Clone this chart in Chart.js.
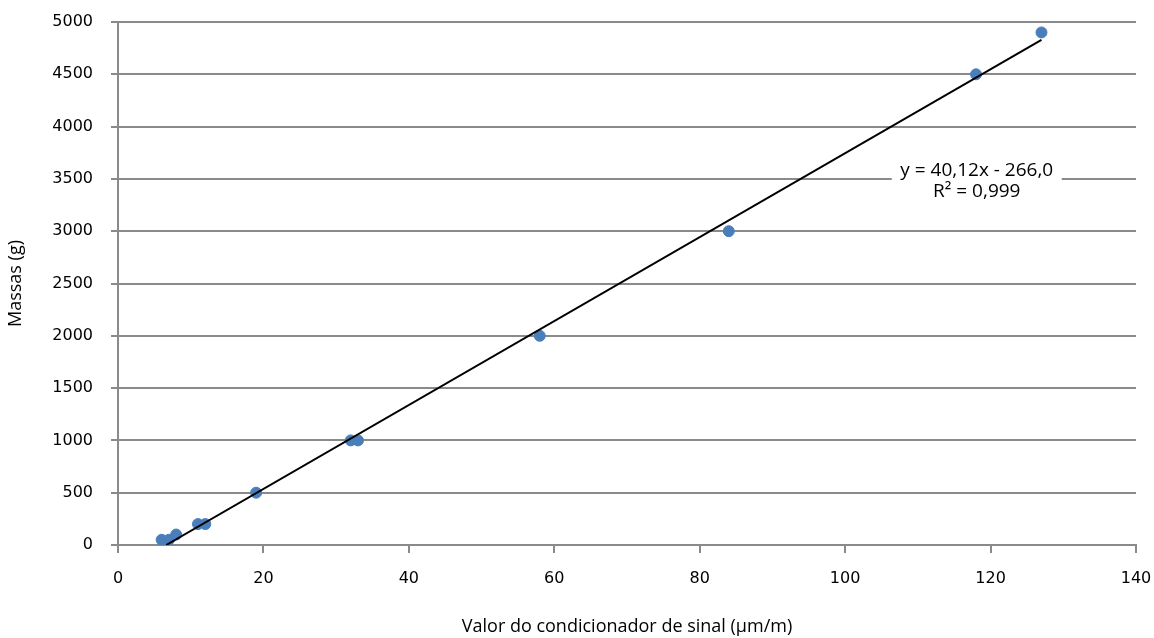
<!DOCTYPE html>
<html>
<head>
<meta charset="utf-8">
<title>Massas x condicionador de sinal</title>
<script src="https://cdn.jsdelivr.net/npm/chart.js@4/dist/chart.umd.min.js"></script>
<style>
  html, body { margin: 0; padding: 0; background: #fff; }
  #wrap { width: 1154px; height: 638px; }
</style>
</head>
<body>
<div id="wrap"><canvas id="chart" width="1154" height="638"></canvas></div>
<script>
// signal conditioner readings (µm/m) and the masses (g) they correspond to
const sinal = [6, 7, 8, 11, 12, 19, 32, 33, 58, 84, 118, 127];
const massas = [50, 50, 100, 200, 200, 500, 1000, 1000, 2000, 3000, 4500, 4900];

// linear trendline as printed on the chart
const slope = 40.12;
const intercept = -266.0;
const trendX = [6.63, 127];
const trendLabel = ['y = 40,12x - 266,0', 'R\u00B2 = 0,999'];

const gridColor = '#8a8a8a';

// draws the equation box over the gridline, like the spreadsheet label
const equationLabel = {
    id: 'equationLabel',
    afterDatasetsDraw(chart) {
        const ctx = chart.ctx;
        const x = chart.scales.x.getPixelForValue(118.1);
        const y = chart.scales.y.getPixelForValue(3500);
        ctx.save();
        ctx.fillStyle = '#fff';
        ctx.fillRect(x - 85, y - 20, 170, 40);
        ctx.fillStyle = '#000';
        ctx.font = '19px "Open Sans", sans-serif';
        ctx.textAlign = 'center';
        ctx.textBaseline = 'middle';
        ctx.fillText(trendLabel[0], x, y - 8);
        ctx.fillText(trendLabel[1], x, y + 13);
        ctx.restore();
    }
};

const ctx = document.getElementById('chart').getContext('2d');
new Chart(ctx, {
    type: 'scatter',
    data: {
        datasets: [
            {
                label: 'Massas',
                data: sinal.map((s, i) => ({ x: s, y: massas[i] })),
                backgroundColor: '#4a7ebb',
                borderColor: '#4a7ebb',
                pointRadius: 5.5,
                pointHoverRadius: 5.5,
                order: 2,
            },
            {
                label: 'Linear',
                type: 'line',
                data: trendX.map((x) => ({ x: x, y: slope * x + intercept })),
                borderColor: '#000',
                borderWidth: 2,
                pointRadius: 0,
                fill: false,
                order: 1,
            },
        ],
    },
    options: {
        responsive: false,
        animation: false,
        layout: { padding: { top: 22, right: 18, left: 0, bottom: 0 } },
        plugins: {
            legend: { display: false },
            tooltip: { enabled: false },
        },
        scales: {
            x: {
                type: 'linear',
                min: 0,
                max: 140,
                ticks: {
                    stepSize: 20,
                    color: '#000',
                    padding: 16,
                    font: { family: 'DejaVu Sans', size: 16 },
                    callback: (v) => String(v),
                },
                grid: {
                    display: true,
                    drawOnChartArea: false,
                    color: gridColor,
                    lineWidth: 2,
                    tickLength: 8,
                },
                border: { color: gridColor, width: 2 },
                title: {
                    display: true,
                    text: 'Valor do condicionador de sinal (\u00B5m/m)',
                    color: '#000',
                    font: { family: 'Open Sans', size: 18 },
                    padding: { top: 0, bottom: 0 },
                },
                afterFit(scale) {
                    scale.height = 93;
                    scale.paddingLeft = 0;
                    scale.paddingRight = 0;
                },
            },
            y: {
                min: 0,
                max: 5000,
                ticks: {
                    stepSize: 500,
                    color: '#000',
                    padding: 18,
                    font: { family: 'DejaVu Sans', size: 16 },
                    callback: (v) => String(v),
                },
                grid: {
                    color: gridColor,
                    lineWidth: 2,
                    tickLength: 7,
                },
                border: { color: gridColor, width: 2 },
                title: {
                    display: true,
                    text: 'Massas (g)',
                    color: '#000',
                    font: { family: 'Open Sans', size: 18 },
                    padding: { top: 5, bottom: 0 },
                },
                afterFit(scale) {
                    scale.width = 118;
                    scale.paddingTop = 0;
                    scale.paddingBottom = 0;
                },
            },
        },
    },
    plugins: [equationLabel],
});
</script>
</body>
</html>
